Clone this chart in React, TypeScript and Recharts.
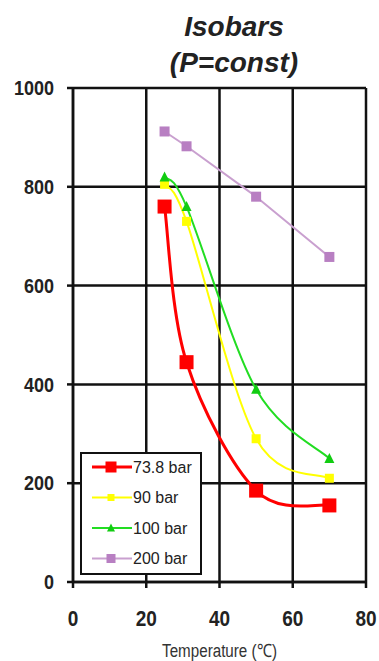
import React from 'react';
import { LineChart, Line, XAxis, YAxis, CartesianGrid, Legend } from 'recharts';

const temperatures = [25, 31, 50, 70];
const bar738 = [760, 445, 185, 155];
const bar90 = [805, 730, 290, 210];
const bar100 = [820, 760, 390, 250];
const bar200 = [912, 882, 780, 658];
const xTicks = [0, 20, 40, 60, 80];
const yTicks = [0, 200, 400, 600, 800, 1000];
const seriesNames = ['73.8 bar', '90 bar', '100 bar', '200 bar'];

const data = temperatures.map((t, i) => ({
  t,
  s738: bar738[i],
  s90: bar90[i],
  s100: bar100[i],
  s200: bar200[i],
}));

const FONT = '"Liberation Sans", Arial, sans-serif';

// Spreadsheet-style smoothed line (Catmull-Rom style Bezier, tension 1/6)
const smoothCurve: any = (context: any) => {
  let pts: number[][] = [];
  return {
    areaStart() {},
    areaEnd() {},
    lineStart() {
      pts = [];
    },
    point(x: number, y: number) {
      pts.push([+x, +y]);
    },
    lineEnd() {
      const n = pts.length;
      if (!n) return;
      context.moveTo(pts[0][0], pts[0][1]);
      for (let i = 0; i < n - 1; i++) {
        const p0 = pts[Math.max(i - 1, 0)];
        const p1 = pts[i];
        const p2 = pts[i + 1];
        const p3 = pts[Math.min(i + 2, n - 1)];
        context.bezierCurveTo(
          p1[0] + (p2[0] - p0[0]) / 6,
          p1[1] + (p2[1] - p0[1]) / 6,
          p2[0] - (p3[0] - p1[0]) / 6,
          p2[1] - (p3[1] - p1[1]) / 6,
          p2[0],
          p2[1]
        );
      }
    },
  };
};

type Shape = 'square' | 'triangle';
const series = [
  { key: 's738', name: seriesNames[0], color: '#ff0000', markerColor: '#ff0000', width: 3, shape: 'square' as Shape, size: 14, legendSize: 11, smooth: true },
  { key: 's90', name: seriesNames[1], color: '#ffff00', markerColor: '#ffff00', width: 2, shape: 'square' as Shape, size: 9, legendSize: 7, smooth: true },
  { key: 's100', name: seriesNames[2], color: '#22dd22', markerColor: '#11cc11', width: 2, shape: 'triangle' as Shape, size: 10, legendSize: 8, smooth: true },
  { key: 's200', name: seriesNames[3], color: '#c9a0cf', markerColor: '#b87fc2', width: 2, shape: 'square' as Shape, size: 10, legendSize: 9, smooth: false },
];

function marker(shape: Shape, cx: number, cy: number, size: number, color: string, key?: string) {
  if (shape === 'triangle') {
    const h = size * 0.9;
    return (
      <polygon
        key={key}
        points={`${cx},${cy - h / 2 - 1} ${cx - size / 2},${cy + h / 2} ${cx + size / 2},${cy + h / 2}`}
        fill={color}
      />
    );
  }
  return <rect key={key} x={cx - size / 2} y={cy - size / 2} width={size} height={size} fill={color} />;
}

const makeDot = (s: typeof series[number]) => (props: any) => {
  const { cx, cy, index } = props;
  if (cx == null || cy == null) return <g key={`e-${s.key}-${index}`} />;
  return marker(s.shape, cx, cy, s.size, s.markerColor, `d-${s.key}-${index}`);
};

const XTick = (props: any) => {
  const { x, y, payload } = props;
  return (
    <g transform={`translate(${x},${y + 36}) scale(1,1.2)`}>
      <text x={0} y={0} textAnchor="middle" fontFamily={FONT} fontWeight="bold" fontSize={19} fill="#222">
        {payload.value}
      </text>
    </g>
  );
};

const YTick = (props: any) => {
  const { x, y, payload } = props;
  return (
    <g transform={`translate(${x},${y}) scale(1,1.1)`}>
      <text x={0} y={0} dy="0.36em" textAnchor="end" fontFamily={FONT} fontWeight="bold" fontSize={18} fill="#222">
        {payload.value}
      </text>
    </g>
  );
};

const XLabel = (props: any) => {
  const vb = props.viewBox || {};
  const cx = vb.x + vb.width / 2;
  return (
    <g transform={`translate(${cx},${vb.y + 75}) scale(0.95,1.15)`}>
      <text x={0} y={0} textAnchor="middle" fontFamily={FONT} fontSize={16} fill="#333">
        Temperature (℃)
      </text>
    </g>
  );
};

const LegendBox = () => (
  <div
    style={{
      width: 122,
      height: 123,
      border: '2px solid #111',
      background: '#fff',
      boxSizing: 'border-box',
    }}
  >
    <svg width={118} height={119} style={{ display: 'block' }}>
      {series.map((s, i) => {
        const cy = 13 + i * 30.5;
        return (
          <g key={s.key}>
            <line x1={10} x2={50} y1={cy} y2={cy} stroke={s.color} strokeWidth={s.width} />
            {marker(s.shape, 29, cy, s.legendSize, s.markerColor)}
            <text x={51} y={cy} dy="0.36em" fontFamily={FONT} fontSize={16} fill="#222">
              {s.name}
            </text>
          </g>
        );
      })}
    </svg>
  </div>
);

export default function App() {
  return (
    <div style={{ position: 'absolute', left: 0, top: 0, width: 379, height: 661, background: '#fff' }}>
      <div
        style={{
          position: 'absolute',
          left: 100,
          top: 9,
          width: 268,
          textAlign: 'center',
          fontFamily: FONT,
          fontWeight: 'bold',
          fontStyle: 'italic',
          fontSize: 28,
          lineHeight: '36px',
          color: '#222',
          zIndex: 2,
        }}
      >
        Isobars
        <br />
        (P=const)
      </div>
      <LineChart width={379} height={661} data={data} margin={{ top: 88, right: 13, bottom: 0, left: 0 }}>
        <CartesianGrid stroke="#111" strokeWidth={2.5} />
        <XAxis
          dataKey="t"
          type="number"
          domain={[0, 80]}
          ticks={xTicks}
          interval={0}
          stroke="#111"
          strokeWidth={2.5}
          tickSize={6}
          tickMargin={2}
          height={79}
          tick={<XTick />}
          label={<XLabel />}
        />
        <YAxis
          type="number"
          domain={[0, 1000]}
          ticks={yTicks}
          interval={0}
          width={73}
          stroke="#111"
          strokeWidth={2.5}
          tickSize={6}
          tickMargin={13}
          tick={<YTick />}
        />
        <Legend
          layout="vertical"
          align="center"
          verticalAlign="middle"
          content={<LegendBox />}
          wrapperStyle={{ position: 'absolute', left: 80, top: 452, width: 122, height: 123 }}
        />
        {series.map((s) => (
          <Line
            key={s.key}
            dataKey={s.key}
            name={s.name}
            type={s.smooth ? smoothCurve : 'linear'}
            stroke={s.color}
            strokeWidth={s.width}
            dot={makeDot(s)}
            activeDot={false}
            isAnimationActive={false}
          />
        ))}
      </LineChart>
    </div>
  );
}
